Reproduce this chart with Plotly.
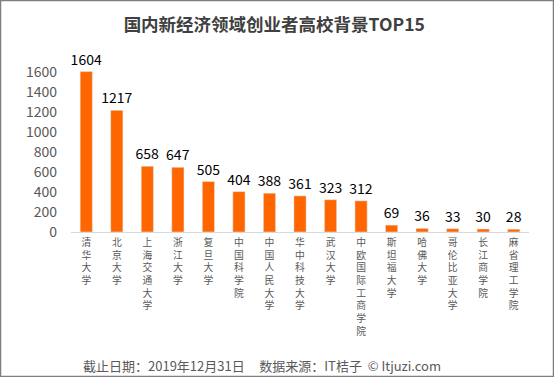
import plotly.graph_objects as go

schools = ["清华大学", "北京大学", "上海交通大学", "浙江大学", "复旦大学", "中国科学院",
           "中国人民大学", "华中科技大学", "武汉大学", "中欧国际工商学院", "斯坦福大学",
           "哈佛大学", "哥伦比亚大学", "长江商学院", "麻省理工学院"]
counts = [1604, 1217, 658, 647, 505, 404, 388, 361, 323, 312, 69, 36, 33, 30, 28]
y_ticks = [0, 200, 400, 600, 800, 1000, 1200, 1400, 1600]

W, H = 554, 377
L, R, T, B = 71, 25, 52, 145
pw, ph = W - L - R, H - T - B

font = "Noto Sans CJK SC, Microsoft YaHei, sans-serif"
vert = ["<br>".join(list(s)) for s in schools]

fig = go.Figure(go.Bar(
    x=list(range(len(schools))), y=counts,
    marker_color="#FF6600",
    text=[str(v) for v in counts], textposition="outside",
    textfont=dict(size=14, color="#000000", family=font),
    constraintext="none",
    cliponaxis=False,
))

fig.update_layout(
    width=W, height=H,
    margin=dict(l=L, r=R, t=T, b=B, autoexpand=False),
    paper_bgcolor="white", plot_bgcolor="white",
    bargap=0.6, showlegend=False,
    font=dict(family=font),
    title=dict(text="<b>国内新经济领域创业者高校背景TOP15</b>",
               x=0.495, xanchor="center", y=1 - 25 / H, yanchor="middle",
               font=dict(size=17.5, color="#404040", family=font)),
    xaxis=dict(tickmode="array", tickvals=list(range(len(schools))), ticktext=vert,
               tickangle=0, tickfont=dict(size=9.8, color="#595959", family=font),
               showline=True, linecolor="#D9D9D9", linewidth=1, ticks="",
               ticklabelstandoff=1, automargin=False,
               range=[-0.5, len(schools) - 0.5], showgrid=False),
    yaxis=dict(range=[0, 1800], tickvals=y_ticks, showgrid=False, zeroline=False,
               tickfont=dict(size=14, color="#595959", family=font),
               ticklabelstandoff=13, showline=False, automargin=False),
)

fig.add_annotation(
    text="截止日期：2019年12月31日&nbsp;&nbsp;&nbsp;&nbsp;&nbsp;数据来源：IT桔子 &nbsp;© Itjuzi.com",
    xref="paper", yref="paper", x=(261.5 - L) / pw, y=-(365 - (T + ph)) / ph,
    xanchor="center", yanchor="middle", showarrow=False,
    font=dict(size=13, color="#595959", family=font),
)

fig.add_shape(type="rect", xref="paper", yref="paper",
              x0=-(L - 0.5) / pw, x1=1 + (R - 0.5) / pw,
              y0=-(B - 0.5) / ph, y1=1 + (T - 0.5) / ph,
              line=dict(color="#7F7F7F", width=1.5), fillcolor="rgba(0,0,0,0)", layer="above")

fig.write_html("out.html", config={"displayModeBar": False},
               post_script="document.body.style.margin='0';document.body.style.overflow='hidden';")
